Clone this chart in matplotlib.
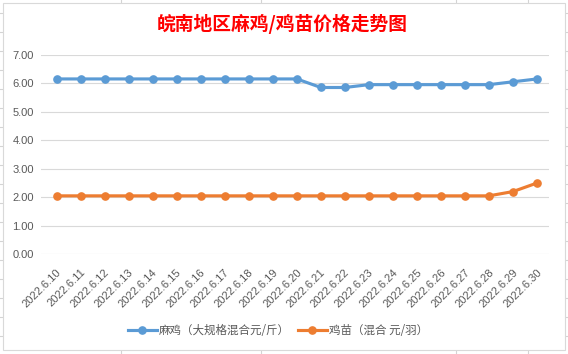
import matplotlib
matplotlib.use("Agg")
import matplotlib.pyplot as plt
from matplotlib.lines import Line2D
from matplotlib.patches import Rectangle
import matplotlib.transforms as mtransforms

plt.rcParams['font.family'] = ['Noto Sans CJK SC', 'DejaVu Sans']

# ---- data ----
dates = ["2022.6.10", "2022.6.11", "2022.6.12", "2022.6.13", "2022.6.14", "2022.6.15",
         "2022.6.16", "2022.6.17", "2022.6.18", "2022.6.19", "2022.6.20", "2022.6.21",
         "2022.6.22", "2022.6.23", "2022.6.24", "2022.6.25", "2022.6.26", "2022.6.27",
         "2022.6.28", "2022.6.29", "2022.6.30"]
maji = [6.15, 6.15, 6.15, 6.15, 6.15, 6.15, 6.15, 6.15, 6.15, 6.15, 6.15,
        5.85, 5.85, 5.95, 5.95, 5.95, 5.95, 5.95, 5.95, 6.05, 6.15]
jimiao = [2.05, 2.05, 2.05, 2.05, 2.05, 2.05, 2.05, 2.05, 2.05, 2.05, 2.05,
          2.05, 2.05, 2.05, 2.05, 2.05, 2.05, 2.05, 2.05, 2.20, 2.50]
series_names = ["麻鸡（大规格混合元/斤）", "鸡苗（混合 元/羽）"]
yticks = [0, 1, 2, 3, 4, 5, 6, 7]
title = "皖南地区麻鸡/鸡苗价格走势图"

W, H = 568, 354
fig = plt.figure(figsize=(W / 100, H / 100), dpi=100)

def fx(x):
    return x / W

def fy(y):
    return 1 - y / H

# spreadsheet background grid lines
grid_c = "#D4D4D4"
rows = [13 + 19 * k for k in range(19)]
for r in rows:
    fig.add_artist(Line2D([0, 1], [fy(r), fy(r)], transform=fig.transFigure, color=grid_c, lw=0.8, zorder=0))
for c in [120.7, 260.5, 455.5, 527.5]:
    fig.add_artist(Line2D([fx(c), fx(c)], [0, 1], transform=fig.transFigure, color=grid_c, lw=0.8, zorder=0))

# chart area
fig.add_artist(Rectangle((fx(2.5), fy(350)), fx(565) - fx(2.5), fy(2.5) - fy(350),
                         transform=fig.transFigure, facecolor="white", edgecolor="#D9D9D9",
                         lw=0.8, zorder=1))

left, right, top, bottom = 41, 549, 54.7, 254.3
ax = fig.add_axes([fx(left), fy(bottom), fx(right) - fx(left), fy(top) - fy(bottom)], zorder=2)
ax.set_facecolor("none")

x = list(range(len(dates)))
blue = "#5B9BD5"
orange = "#ED7D31"
l1, = ax.plot(x, maji, color=blue, lw=2.25, marker="o", ms=5.2, label=series_names[0], zorder=3)
l2, = ax.plot(x, jimiao, color=orange, lw=2.25, marker="o", ms=5.2, label=series_names[1], zorder=3)

ax.set_xlim(-0.654, 20.5)
ax.set_ylim(0, 7)
ax.tick_params(axis="both", length=0)
ax.tick_params(axis="y", pad=5)
ax.tick_params(axis="x", pad=4)
ax.set_yticks(yticks)
ax.set_yticklabels([f"{v:.2f}" for v in yticks], family="Liberation Sans", fontsize=8, color="#595959")
ax.yaxis.grid(True, color="#D9D9D9", lw=0.8)
ax.set_axisbelow(True)
for s in ax.spines.values():
    s.set_visible(False)

ax.set_xticks(x)
ax.set_xticklabels(dates, rotation=45, ha="right", va="center", rotation_mode="anchor",
                   family="Liberation Sans", fontsize=8, color="#595959")
offset = mtransforms.ScaledTranslation(3 / 100, -11 / 100, fig.dpi_scale_trans)
for lab in ax.get_xticklabels():
    lab.set_transform(lab.get_transform() + offset)

fig.text(fx(282.5), fy(24), title, ha="center", va="center", color="#FF0000",
         fontsize=13.5, fontweight="bold")

fig.legend(handles=[l1, l2], loc="center", bbox_to_anchor=(fx(278), fy(331)), ncol=2,
           frameon=False, fontsize=8.3, handlelength=2.5, handletextpad=0.2,
           columnspacing=0.7, labelcolor="#595959")

fig.savefig("out.png", dpi=100)
